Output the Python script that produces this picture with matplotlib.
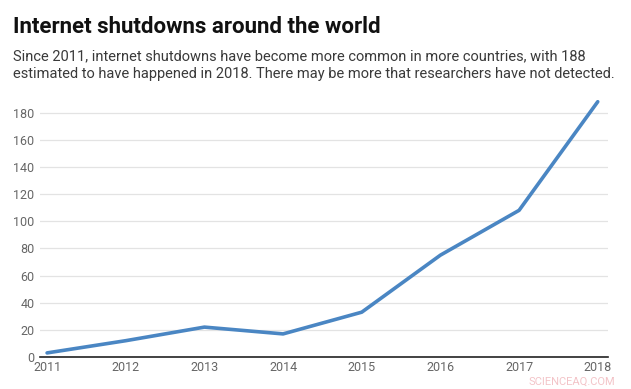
import matplotlib.pyplot as plt

plt.rcParams['font.family'] = ['Roboto', 'DejaVu Sans']

years = [2011, 2012, 2013, 2014, 2015, 2016, 2017, 2018]
shutdowns = [3, 12, 22, 17, 33, 75, 108, 188]
yticks = [0, 20, 40, 60, 80, 100, 120, 140, 160, 180]

fig = plt.figure(figsize=(6.31, 3.89), dpi=100)
ax = fig.add_axes([0.0634, 0.0823, 0.9001, 0.6632])

ax.plot(years, shutdowns, color='#4a86c3', linewidth=2.6, solid_capstyle='round')

ax.set_xlim(2010.91, 2018.13)
ax.set_ylim(0, 190)
ax.set_xticks(years)
ax.set_yticks(yticks)
ax.grid(axis='y', color='#e3e3e3', linewidth=0.9)
ax.set_axisbelow(True)
for s in ['top', 'right', 'left']:
    ax.spines[s].set_visible(False)
ax.spines['bottom'].set_color('#222222')
ax.spines['bottom'].set_linewidth(1.2)
ax.tick_params(axis='both', length=0, labelsize=9, labelcolor='#666666')
ax.tick_params(axis='y', pad=4)
ax.tick_params(axis='x', pad=3)

fig.text(0.021, 0.915, 'Internet shutdowns around the world', fontsize=16,
         fontweight='bold', color='#111111')
fig.text(0.021, 0.80,
         'Since 2011, internet shutdowns have become more common in more countries, with 188\n'
         'estimated to have happened in 2018. There may be more that researchers have not detected.',
         fontsize=10.5, color='#3a3a3a', linespacing=1.3)
fig.text(0.975, 0.012, 'SCIENCEAQ.COM', fontsize=8, color='#f3c4c8', ha='right')

fig.savefig('out.png', dpi=100)
